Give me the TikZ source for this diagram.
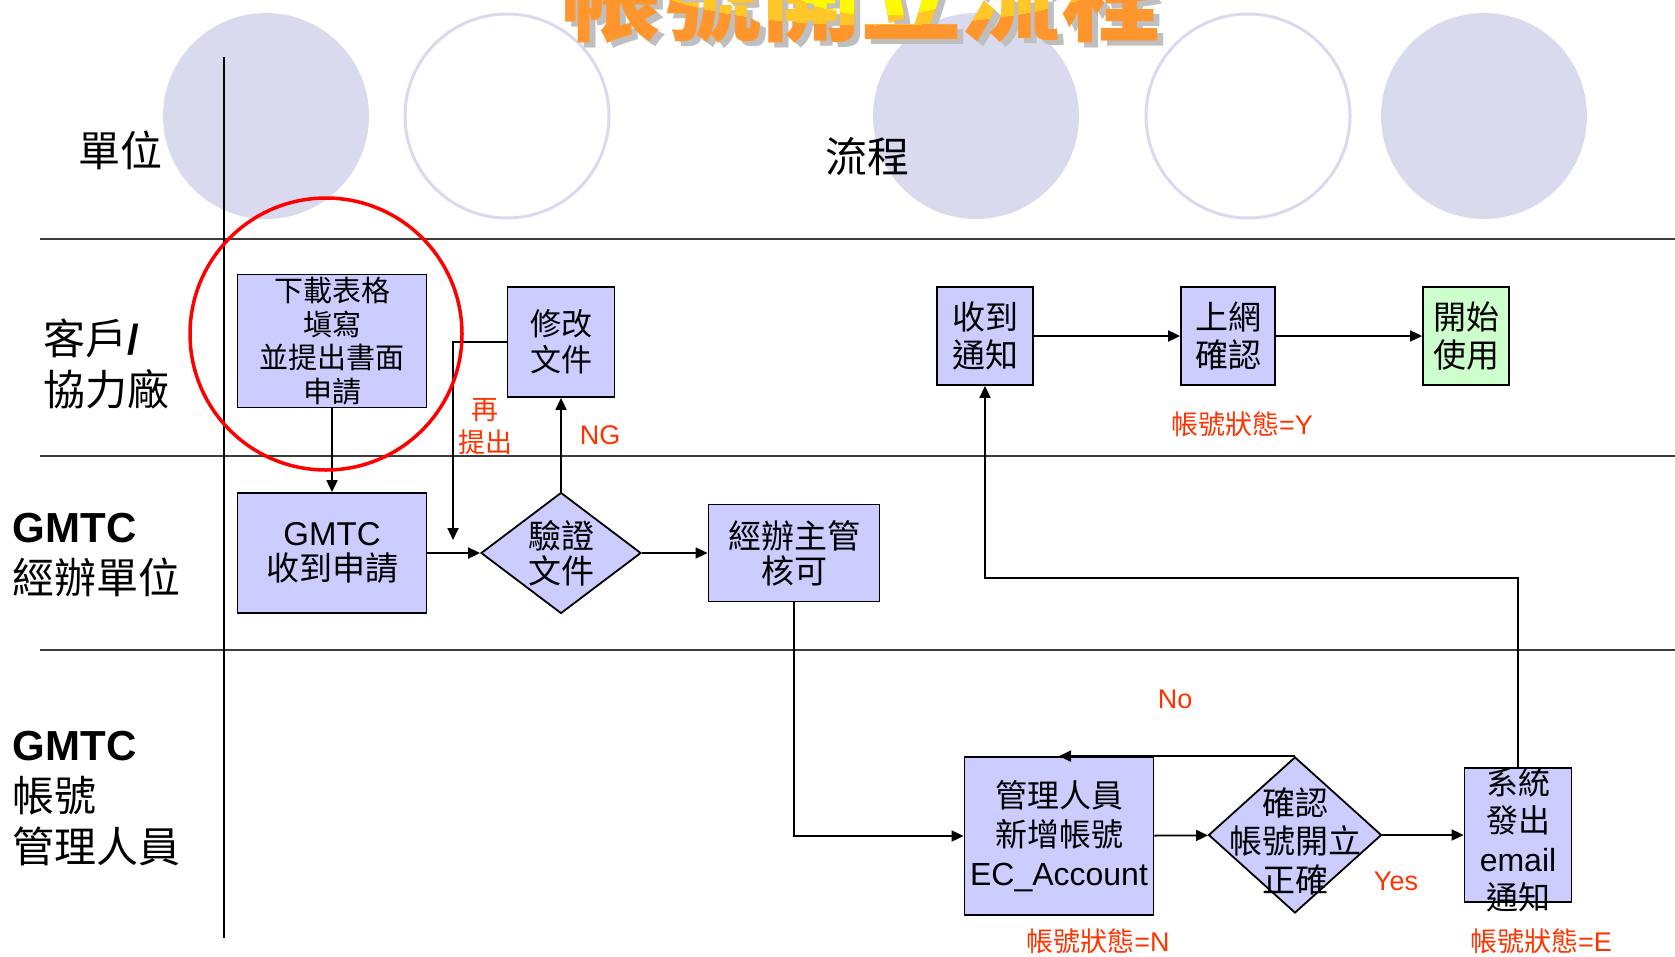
\documentclass[tikz,border=0pt]{standalone}
\usepackage{fontspec}
\setmainfont{Noto Sans CJK TC}
\newfontfamily\arial{Liberation Sans}
\usetikzlibrary{arrows.meta,shapes.geometric}
\definecolor{lav}{RGB}{218,218,238}
\definecolor{boxblue}{RGB}{204,204,255}
\definecolor{boxgreen}{RGB}{204,255,204}
\definecolor{notered}{RGB}{255,51,0}
\definecolor{lanegray}{RGB}{60,60,60}
\definecolor{titleorange}{RGB}{255,150,45}
\definecolor{titlegold}{RGB}{255,200,40}
\definecolor{titleyellow}{RGB}{255,250,0}

\begin{document}
\begin{tikzpicture}[x=1pt,y=-1pt,line width=1.8pt,
    >={Triangle[length=12pt,width=11pt]},
    heading/.style={anchor=base,inner sep=0pt,
      font=\fontsize{100}{100}\selectfont\bfseries},
    box/.style={draw,fill=boxblue,inner sep=0pt,align=center,
      font=\fontsize{33}{38}\selectfont},
    chk/.style={diamond,draw,fill=boxblue,inner sep=0pt},
    boxtext/.style={inner sep=0pt,align=center,font=\fontsize{33}{38.5}\selectfont},
    note/.style={text=notered,inner sep=0pt,align=center,
      font=\fontsize{27}{33}\selectfont},
    lane/.style={anchor=west,align=left,inner sep=0pt,
      font=\fontsize{42}{51}\selectfont}]
    \useasboundingbox(0,0)rectangle(1675,956);
    \foreach \x in {266,976,1484}
      \fill[lav](\x,116)circle(103pt);
    \foreach \x in {507,1248}
      \draw[lav,line width=3pt](\x,116)circle(102pt);
    \node[heading,text=black!25](title-shadow)at(867,38){帳號開立流程};
    \node[heading,text=titleorange](title)at(861,33){帳號開立流程};
    \begin{scope}
      \clip(875,-35)ellipse(250pt and 60pt);
      \node[heading,text=titlegold](title-glow)at(861,33){帳號開立流程};
    \end{scope}
    \begin{scope}
      \clip(880,-35)ellipse(110pt and 50pt);
      \node[heading,text=titleyellow](title-top)at(861,33){帳號開立流程};
    \end{scope}
    \draw[lanegray,line width=2.5pt](40,239)--(1675,239)(40,456)--(1675,456)
      (40,650)--(1675,650);
    \draw[line width=2pt](224,57)--(224,938);
    \node[lane,anchor=center](unit)at(120,150){單位};
    \node[lane,anchor=center](flow)at(867,157){流程};
    \node[lane](client)at(43,364){客戶{\arial\bfseries /}\\協力廠};
    \node[lane](handler)at(12,555){{\arial\bfseries\fontsize{42}{51}\selectfont GMTC}\\經辦單位};
    \node[lane](admin)at(12,799){{\arial\bfseries\fontsize{42}{51}\selectfont GMTC}\\帳號\\管理人員};

    \node[box,minimum width=189pt,minimum height=133pt,font=\fontsize{29}{33.5}\selectfont]
      (form)at(332,341){下載表格\\塡寫\\並提出書面\\申請};
    \node[box,minimum width=107pt,minimum height=110pt,font=\fontsize{31}{36}\selectfont]
      (fix)at(561,342){修改\\文件};
    \node[box,minimum width=96pt,minimum height=98pt](notice)at(985,336){收到\\通知};
    \node[box,minimum width=94pt,minimum height=98pt](online)at(1228,336){上網\\確認};
    \node[box,fill=boxgreen,minimum width=86pt,minimum height=98pt]
      (start)at(1466,336){開始\\使用};
    \node[box,minimum width=189pt,minimum height=120pt,font=\fontsize{33}{35}\selectfont]
      (recv)at(332,553){{\arial GMTC}\\收到申請};
    \node[chk,minimum width=160pt,minimum height=121pt](verify)at(561,553){};
    \node[boxtext,font=\fontsize{33}{35}\selectfont](verify-text)at(verify){驗證\\文件};
    \node[box,minimum width=171pt,minimum height=97pt,font=\fontsize{33}{35}\selectfont]
      (approve)at(794,553){經辦主管\\核可};
    \node[box,minimum width=189pt,minimum height=158pt,font=\fontsize{32}{39}\selectfont]
      (create)at(1059,836){管理人員\\新增帳號\\{\arial EC\_Account}};
    \node[chk,minimum width=173pt,minimum height=156pt](check)at(1295,835){};
    \node[boxtext](check-text)at(1295,841){確認\\帳號開立\\正確};
    \node[box,minimum width=107pt,minimum height=134pt](mail)at(1518,835){};
    \node[boxtext,font=\fontsize{32}{38.5}\selectfont](mail-text)at(1518,840)
      {系統\\發出\\{\arial email}\\通知};

    \node[note](again)at(485,427){再\\提出};
    \node[note](ng)at(600,435){\arial NG};
    \node[note](state-y)at(1242,424){帳號狀態{\arial =Y}};
    \node[note](no)at(1175,699){\arial No};
    \node[note](yes)at(1396,881){\arial Yes};
    \node[note](state-n)at(1098,941){帳號狀態{\arial =N}};
    \node[note](state-e)at(1541,941){帳號狀態{\arial =E}};

    \draw[->](form)--(recv);
    \draw[->](recv)--(verify);
    \draw[->](verify)--(approve);
    \draw[->](verify)--(fix);
    \coordinate(resubmit)at(453,540);
    \draw[->](fix.west)-|(resubmit);
    \draw[->](notice)--(online);
    \draw[->](online)--(start);
    \draw[->](approve.south)|-(create.west);
    \draw[->](create)--(check);
    \draw[->](check)--(mail);
    \draw[->](check.north)--(check.north -| create);
    \coordinate(back)at(985,578);
    \draw[->](mail.north)|-(back)--(notice.south);
    \draw[red,line width=3.5pt](326,334)circle(136pt);
  \end{tikzpicture}
\end{document}
